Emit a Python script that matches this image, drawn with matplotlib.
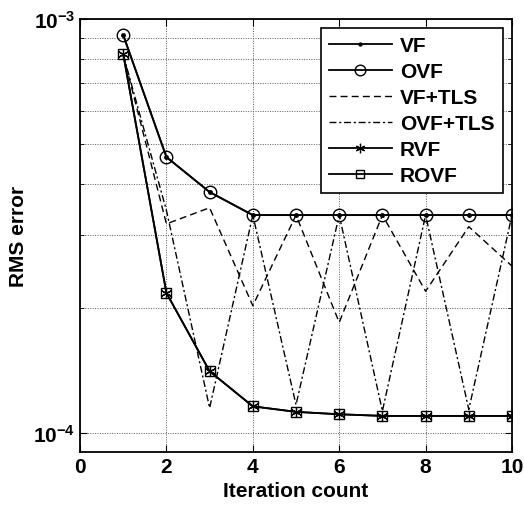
import math
import matplotlib
matplotlib.use('Agg')
import matplotlib.pyplot as plt
from matplotlib.ticker import FixedLocator, FuncFormatter, NullFormatter

plt.rcParams['font.family'] = 'Liberation Sans'
plt.rcParams['mathtext.fontset'] = 'custom'
plt.rcParams['mathtext.rm'] = 'Liberation Sans'
plt.rcParams['mathtext.default'] = 'regular'

iters = [1, 2, 3, 4, 5, 6, 7, 8, 9, 10]
vf = [9.15e-4, 4.64e-4, 3.82e-4, 3.36e-4, 3.36e-4, 3.36e-4, 3.36e-4, 3.36e-4, 3.36e-4, 3.36e-4]
ovf = [9.15e-4, 4.64e-4, 3.82e-4, 3.36e-4, 3.36e-4, 3.36e-4, 3.36e-4, 3.36e-4, 3.36e-4, 3.36e-4]
vf_tls = [8.2e-4, 3.2e-4, 3.5e-4, 2.03e-4, 3.36e-4, 1.85e-4, 3.36e-4, 2.2e-4, 3.15e-4, 2.53e-4]
ovf_tls = [8.2e-4, 3.45e-4, 1.15e-4, 3.36e-4, 1.17e-4, 3.36e-4, 1.13e-4, 3.36e-4, 1.14e-4, 3.36e-4]
rvf = [8.23e-4, 2.18e-4, 1.41e-4, 1.16e-4, 1.125e-4, 1.11e-4, 1.10e-4, 1.10e-4, 1.10e-4, 1.10e-4]
rovf = [8.23e-4, 2.18e-4, 1.41e-4, 1.16e-4, 1.125e-4, 1.11e-4, 1.10e-4, 1.10e-4, 1.10e-4, 1.10e-4]

fig = plt.figure(figsize=(5.24, 5.10), dpi=100)
ax = fig.add_axes([0.1527, 0.1118, 0.8244, 0.8490])

ax.plot(iters, vf, 'k-', marker='.', markersize=5, lw=1.3, label='VF')
ax.plot(iters, ovf, 'k-', marker='o', markersize=9, mfc='none', mew=1.0, lw=1.3, label='OVF')
ax.plot(iters, vf_tls, 'k--', lw=1.0, dashes=(5, 3), label='VF+TLS')
ax.plot(iters, ovf_tls, 'k-.', lw=1.0, dashes=(5, 2, 1.5, 2), label='OVF+TLS')
ax.plot(iters, rvf, 'k-', marker=(6, 2, 0), markersize=8, mew=0.9, lw=1.3, label='RVF')
ax.plot(iters, rovf, 'k-', marker='s', markersize=7.5, mfc='none', mew=1.0, lw=1.3, label='ROVF')

ax.set_yscale('log')
ax.set_xlim(0, 10)
ax.set_ylim(9e-5, 1e-3)
ax.set_xticks([0, 2, 4, 6, 8, 10])
ax.yaxis.set_major_locator(FixedLocator([1e-4, 1e-3]))
ax.yaxis.set_minor_locator(FixedLocator([k * 1e-4 for k in range(2, 10)]))
ax.yaxis.set_major_formatter(FuncFormatter(lambda v, p: '$10^{%d}$' % round(math.log10(v))))
ax.yaxis.set_minor_formatter(NullFormatter())

ax.grid(True, which='both', linestyle=(0, (1, 1.5)), color='0.35', lw=0.7)
ax.tick_params(which='both', direction='in', top=True, right=True, labelsize=15)
ax.tick_params(which='major', length=5)
ax.tick_params(which='minor', length=3)
for lbl in ax.get_xticklabels() + ax.get_yticklabels():
    lbl.set_fontweight('bold')
for s in ax.spines.values():
    s.set_linewidth(1.3)

ax.set_xlabel('Iteration count', fontsize=15, fontweight='bold')
ax.set_ylabel('RMS error', fontsize=15, fontweight='bold')

leg = ax.legend(loc='upper right', bbox_to_anchor=(0.979, 0.979),
                handlelength=3.0, handletextpad=0.4, markerscale=0.85,
                fancybox=False, framealpha=1, edgecolor='k',
                borderaxespad=0, labelspacing=0.33, prop={'size': 15, 'weight': 'bold'})
leg.get_frame().set_linewidth(1.2)

fig.savefig('out.png', dpi=100)
